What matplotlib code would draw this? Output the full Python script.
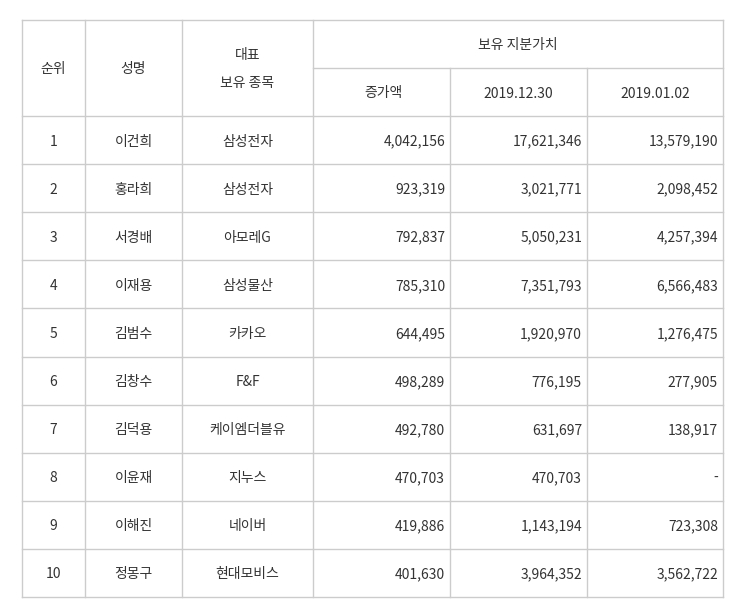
import matplotlib
matplotlib.use("Agg")
import matplotlib.pyplot as plt

plt.rcParams['font.family'] = ['Noto Sans CJK KR', 'DejaVu Sans']

ranks = ["1","2","3","4","5","6","7","8","9","10"]
names = ["이건희","홍라희","서경배","이재용","김범수","김창수","김덕용","이윤재","이해진","정몽구"]
stocks = ["삼성전자","삼성전자","아모레G","삼성물산","카카오","F&F","케이엠더블유","지누스","네이버","현대모비스"]
increase = ["4,042,156","923,319","792,837","785,310","644,495","498,289","492,780","470,703","419,886","401,630"]
v2019_12 = ["17,621,346","3,021,771","5,050,231","7,351,793","1,920,970","776,195","631,697","470,703","1,143,194","3,964,352"]
v2019_01 = ["13,579,190","2,098,452","4,257,394","6,566,483","1,276,475","277,905","138,917","-","723,308","3,562,722"]

fig = plt.figure(figsize=(7.45, 6.15), dpi=100)
ax = fig.add_axes([0, 0, 1, 1])
ax.set_xlim(0, 745); ax.set_ylim(615, 0); ax.axis('off')

xs = [22, 85, 182, 313, 450, 587, 723]
top, h1, h2, bot = 20, 68, 116, 597
rh = (bot - h2) / len(ranks)
lc = '#cccccc'; tc = '#333333'; fs = 10
va = 'center_baseline'

ax.plot([xs[0], xs[-1]], [top, top], color=lc, lw=1)
ax.plot([xs[3], xs[-1]], [h1, h1], color=lc, lw=1)
for i in range(len(ranks) + 1):
    y = h2 + i * rh
    ax.plot([xs[0], xs[-1]], [y, y], color=lc, lw=1)
for j, x in enumerate(xs):
    y0 = h1 if j in (4, 5) else top
    ax.plot([x, x], [y0, bot], color=lc, lw=1)

ax.text((xs[0]+xs[1])/2, (top+h2)/2, "순위", ha='center', va=va, fontsize=fs, color=tc)
ax.text((xs[1]+xs[2])/2, (top+h2)/2, "성명", ha='center', va=va, fontsize=fs, color=tc)
ax.text((xs[2]+xs[3])/2, 54, "대표", ha='center', va=va, fontsize=fs, color=tc)
ax.text((xs[2]+xs[3])/2, 82, "보유 종목", ha='center', va=va, fontsize=fs, color=tc)
ax.text((xs[3]+xs[6])/2, (top+h1)/2, "보유 지분가치", ha='center', va=va, fontsize=fs, color=tc)
ax.text(383, (h1+h2)/2, "증가액", ha='center', va=va, fontsize=fs, color=tc)
ax.text((xs[4]+xs[5])/2, (h1+h2)/2, "2019.12.30", ha='center', va=va, fontsize=fs, color=tc)
ax.text((xs[5]+xs[6])/2, (h1+h2)/2, "2019.01.02", ha='center', va=va, fontsize=fs, color=tc)

for i in range(len(ranks)):
    y = h2 + (i + 0.5) * rh
    ax.text((xs[0]+xs[1])/2, y, ranks[i], ha='center', va=va, fontsize=fs, color=tc)
    ax.text((xs[1]+xs[2])/2, y, names[i], ha='center', va=va, fontsize=fs, color=tc)
    ax.text((xs[2]+xs[3])/2, y, stocks[i], ha='center', va=va, fontsize=fs, color=tc)
    for j, col in enumerate([increase, v2019_12, v2019_01]):
        ax.text(xs[4+j] - 5, y, col[i], ha='right', va=va, fontsize=fs, color=tc)

fig.savefig("out.png", dpi=100, facecolor='white')
